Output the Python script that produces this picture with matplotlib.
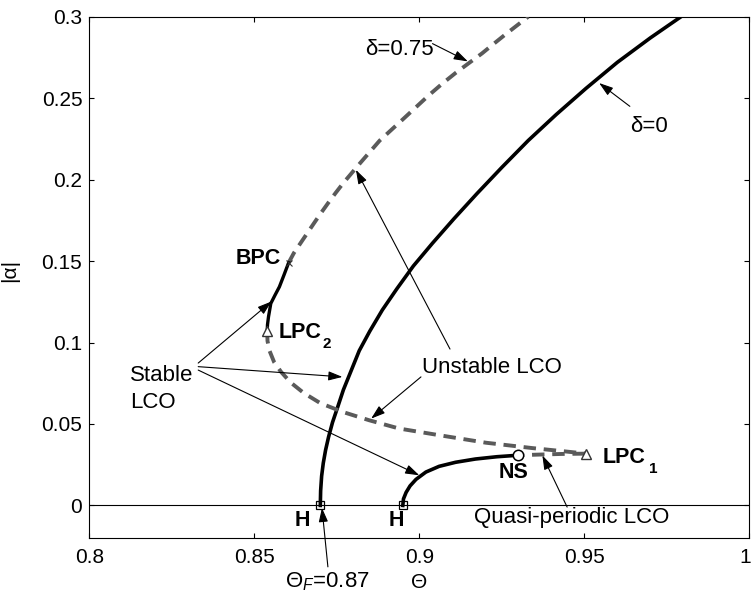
import matplotlib
matplotlib.use('Agg')
import matplotlib.pyplot as plt
import matplotlib.transforms as mtransforms

plt.rcParams['font.family'] = ['Liberation Sans', 'DejaVu Sans']
plt.rcParams['mathtext.fontset'] = 'custom'
plt.rcParams['mathtext.rm'] = 'Liberation Sans'
plt.rcParams['mathtext.it'] = 'Liberation Sans:italic'
plt.rcParams['mathtext.bf'] = 'Liberation Sans:bold'

# delta = 0: stable LCO branch born at the flutter Hopf point
theta_d0 = [0.8700, 0.8701, 0.8704, 0.8709, 0.8716, 0.8725, 0.8737, 0.8752, 0.8770,
            0.8792, 0.8818, 0.8850, 0.8888, 0.8932, 0.8982, 0.9040, 0.9105, 0.9175,
            0.9250, 0.9330, 0.9415, 0.9505, 0.9600, 0.9700, 0.9800]
alpha_d0 = [0.000, 0.009, 0.018, 0.026, 0.034, 0.042, 0.051, 0.060, 0.071,
            0.082, 0.095, 0.107, 0.120, 0.133, 0.147, 0.161, 0.176, 0.1915,
            0.2075, 0.224, 0.240, 0.256, 0.272, 0.287, 0.301]

# delta = 0.75: unstable branch above BPC
theta_up = [0.8604, 0.8620, 0.8640, 0.8660, 0.8680, 0.8702, 0.8725, 0.8747, 0.8770,
            0.8795, 0.8820, 0.8850, 0.8880, 0.8915, 0.8950, 0.8990, 0.9030, 0.9070,
            0.9110, 0.9150, 0.9190, 0.9225, 0.9260, 0.9295, 0.9330]
alpha_up = [0.1490, 0.1550, 0.1610, 0.1670, 0.1730, 0.1795, 0.1860, 0.1920, 0.1980,
            0.2040, 0.2100, 0.2170, 0.2240, 0.2305, 0.2370, 0.2445, 0.2520, 0.2590,
            0.2655, 0.2715, 0.2775, 0.2833, 0.2890, 0.2945, 0.3000]

# delta = 0.75: short stable branch LPC2 -> BPC
theta_s2 = [0.8539, 0.8540, 0.8543, 0.8550, 0.8563, 0.8576, 0.8590, 0.8604]
alpha_s2 = [0.1070, 0.1110, 0.1158, 0.1240, 0.1292, 0.1342, 0.1415, 0.1490]

# delta = 0.75: unstable branch LPC2 -> LPC1
theta_lo = [0.8539, 0.8540, 0.8546, 0.8560, 0.8581, 0.8610, 0.8650, 0.8700, 0.8768,
            0.8848, 0.8939, 0.9061, 0.9202, 0.9343, 0.9440, 0.9506]
alpha_lo = [0.1070, 0.1010, 0.0950, 0.0880, 0.0820, 0.0755, 0.0690, 0.0628, 0.0574,
            0.0523, 0.0472, 0.0431, 0.0385, 0.0352, 0.0332, 0.0318]

# delta = 0.75: stable branch from second Hopf point up to NS
theta_h2 = [0.8950, 0.8952, 0.8960, 0.8972, 0.8990, 0.9020, 0.9060, 0.9110, 0.9170,
            0.9235, 0.9298]
alpha_h2 = [0.0000, 0.0040, 0.0080, 0.0120, 0.0160, 0.0205, 0.0240, 0.0265, 0.0285,
            0.0299, 0.0308]

# quasi-periodic continuation NS -> LPC1
theta_qp = [0.9298, 0.9360, 0.9430, 0.9506]
alpha_qp = [0.0308, 0.0312, 0.0316, 0.0318]

# bifurcation points
theta_H = [0.8700, 0.8950]
alpha_H = [0.0, 0.0]
theta_LPC = [0.8539, 0.9506]
alpha_LPC = [0.1070, 0.0318]
theta_NS, alpha_NS = 0.9298, 0.0308
theta_BPC, alpha_BPC = 0.8604, 0.1490

xticks = [0.8, 0.85, 0.9, 0.95, 1.0]
xticklabels = ['0.8', '0.85', '0.9', '0.95', '1']
yticks = [0, 0.05, 0.1, 0.15, 0.2, 0.25, 0.3]
yticklabels = ['0', '0.05', '0.1', '0.15', '0.2', '0.25', '0.3']

fig = plt.figure(figsize=(7.53, 5.98), dpi=100)
ax = fig.add_axes([0.1186, 0.1003, 0.8765, 0.8717])

dash_grey = '#5a5a5a'
dash = (0, (3.2, 2.0))

ax.axhline(0, color='k', lw=0.8, zorder=1)
ax.plot(theta_d0, alpha_d0, color='k', lw=2.6, zorder=3)
ax.plot(theta_up, alpha_up, color=dash_grey, lw=2.8, linestyle=dash, zorder=3)
ax.plot(theta_lo, alpha_lo, color=dash_grey, lw=2.8, linestyle=dash, zorder=3)
ax.plot(theta_qp, alpha_qp, color=dash_grey, lw=2.8, linestyle=(1.5, (3.2, 2.0)), zorder=3)
ax.plot(theta_s2, alpha_s2, color='k', lw=2.4, zorder=4)
ax.plot(theta_h2, alpha_h2, color='k', lw=2.6, zorder=4)

ax.plot(theta_H, alpha_H, ls='none', marker='s', ms=6, mfc='none', mec='k', mew=0.9, zorder=5)
ax.plot(theta_LPC, alpha_LPC, ls='none', marker='^', ms=7, mfc='white', mec='#333333', mew=1.0, zorder=5)
ax.plot([theta_NS], [alpha_NS], ls='none', marker='o', ms=7.5, mfc='white', mec='k', mew=1.1, zorder=5)
ax.plot([theta_BPC], [alpha_BPC], ls='none', marker='x', ms=4, mec='#333333', mew=0.8, zorder=5)

ax.set_xlim(0.8, 1.0)
ax.set_ylim(-0.02, 0.3)
ax.set_xticks(xticks)
ax.set_xticklabels(xticklabels)
ax.set_yticks(yticks)
ax.set_yticklabels(yticklabels)
ax.tick_params(direction='in', top=True, right=True, length=3.6, width=0.8,
               labelsize=15)
ax.tick_params(axis='x', pad=7)
ax.tick_params(axis='y', pad=5)
for s in ax.spines.values():
    s.set_linewidth(0.8)

# keep the "1" at the right end inside the canvas
last = ax.get_xticklabels()[-1]
last.set_transform(last.get_transform() +
                   mtransforms.ScaledTranslation(-4 / 100, 0, fig.dpi_scale_trans))

ax.set_xlabel('Θ', fontsize=15)
ax.set_ylabel('|α|', fontsize=15)
ax.xaxis.set_label_coords(0.5, -0.068)
ax.yaxis.set_label_coords(-0.107, 0.514)

# labels for the bifurcation points
bold = dict(fontsize=15.5, fontweight='bold')
sub = dict(fontsize=11, fontweight='bold')
ax.text(0.8580, 0.1518, 'BPC', ha='right', va='center', **bold)
ax.text(0.8575, 0.1028, 'LPC', ha='left', va='baseline', **bold)
ax.text(0.8708, 0.0966, '2', ha='left', va='baseline', **sub)
ax.text(0.9556, 0.0261, 'LPC', ha='left', va='baseline', **bold)
ax.text(0.9696, 0.0199, '1', ha='left', va='baseline', **sub)
ax.text(0.9284, 0.0202, 'NS', ha='center', va='center', **bold)
ax.text(0.8646, -0.0092, 'H', ha='center', va='center', **bold)
ax.text(0.8929, -0.0095, 'H', ha='center', va='center', **bold)

# callouts
arw = dict(arrowstyle='-|>,head_length=0.85,head_width=0.28', color='k', lw=0.8,
           shrinkA=0, shrinkB=0, mutation_scale=10)


def callout(tip, origin):
    ax.annotate('', xy=tip, xytext=origin, arrowprops=arw, annotation_clip=False)


note = dict(fontsize=16, va='baseline')
ax.text(0.8123, 0.0764, 'Stable', ha='left', **note)
ax.text(0.8123, 0.0598, 'LCO', ha='left', **note)
callout((0.8552, 0.1252), (0.8330, 0.0874))
callout((0.8767, 0.0789), (0.8330, 0.0852))
callout((0.9000, 0.0185), (0.8330, 0.0831))

ax.text(0.9007, 0.0813, 'Unstable LCO', ha='left', **note)
callout((0.8808, 0.2060), (0.9093, 0.0960))
callout((0.8854, 0.0533), (0.9005, 0.0789))

ax.text(0.9463, -0.0107, 'Quasi-periodic LCO', ha='center', **note)
callout((0.9373, 0.0307), (0.9448, -0.0010))

ax.text(0.8836, 0.2764, 'δ=0.75', ha='left', **note)
callout((0.9147, 0.2726), (0.9040, 0.2835))

ax.text(0.9638, 0.2291, 'δ=0', ha='left', **note)
callout((0.9545, 0.2593), (0.9638, 0.2450))

ax.text(0.8593, -0.0506, r'$\Theta_{F}$=0.87', ha='left', clip_on=False, **note)
callout((0.8705, -0.0015), (0.8723, -0.0377))

fig.savefig('out.png', dpi=100)
